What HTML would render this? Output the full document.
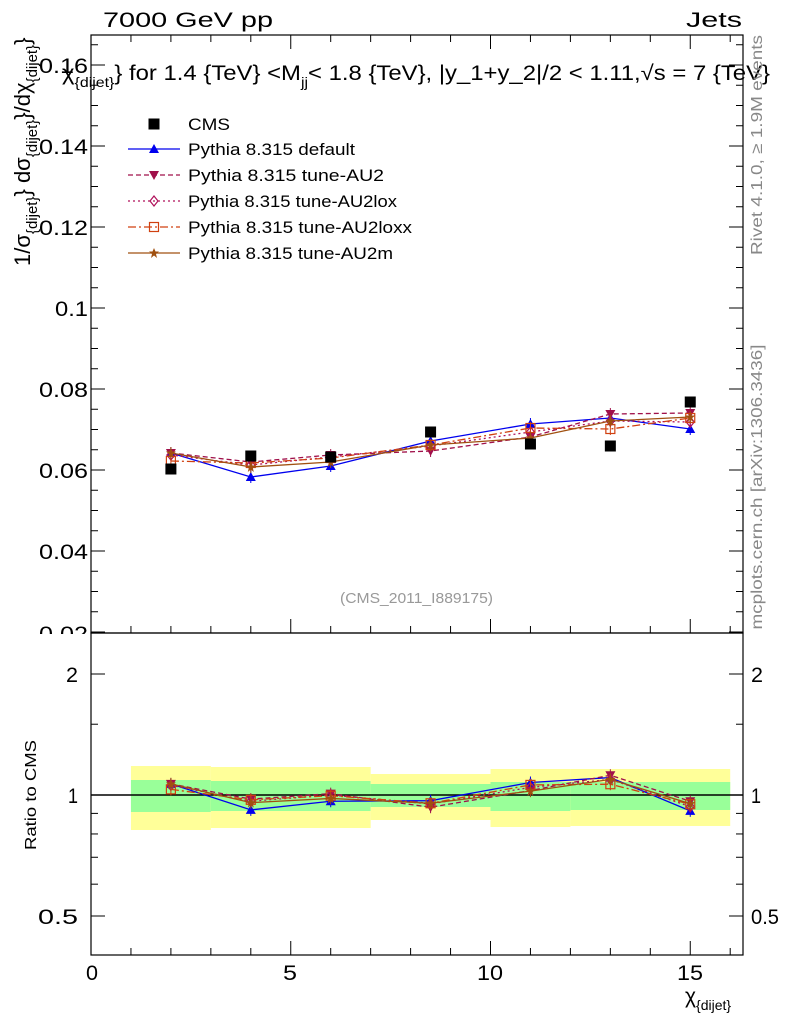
<!DOCTYPE html>
<html><head><meta charset="utf-8"><style>
body{margin:0;background:#fff;}
svg{font-family:"Liberation Sans",sans-serif;}
</style></head><body>
<svg id="s" width="786" height="1024" xmlns="http://www.w3.org/2000/svg">
<rect width="786" height="1024" fill="#fff"/>
<g id="bands"></g>
<line x1="91" y1="795" x2="743" y2="795" stroke="#000" stroke-width="1.5"/>
<g id="series"></g>
<g font-size="21" fill="#000">
<text x="88" y="641" text-anchor="end" textLength="49" lengthAdjust="spacingAndGlyphs">0.02</text>
</g>
<rect x="0" y="634" width="90" height="14" fill="#fff"/>
<rect x="91" y="35" width="652" height="598" fill="none" stroke="#000" stroke-width="1.2"/>
<rect x="91" y="633" width="652" height="322" fill="none" stroke="#000" stroke-width="1.2"/>
<g id="ticks" stroke="#000" stroke-width="1"></g>
<g font-size="21" fill="#000">
<text x="88" y="559" text-anchor="end" textLength="49" lengthAdjust="spacingAndGlyphs">0.04</text>
<text x="88" y="478" text-anchor="end" textLength="49" lengthAdjust="spacingAndGlyphs">0.06</text>
<text x="88" y="397" text-anchor="end" textLength="49" lengthAdjust="spacingAndGlyphs">0.08</text>
<text x="88" y="316" text-anchor="end" textLength="33" lengthAdjust="spacingAndGlyphs">0.1</text>
<text x="88" y="235" text-anchor="end" textLength="49" lengthAdjust="spacingAndGlyphs">0.12</text>
<text x="88" y="154" text-anchor="end" textLength="49" lengthAdjust="spacingAndGlyphs">0.14</text>
<text x="88" y="73" text-anchor="end" textLength="49" lengthAdjust="spacingAndGlyphs">0.16</text>
<text x="78" y="682" text-anchor="end" textLength="12" lengthAdjust="spacingAndGlyphs">2</text>
<text x="78" y="803" text-anchor="end" textLength="10" lengthAdjust="spacingAndGlyphs">1</text>
<text x="78" y="924" text-anchor="end" textLength="40" lengthAdjust="spacingAndGlyphs">0.5</text>
<text x="751" y="682" textLength="12" lengthAdjust="spacingAndGlyphs">2</text>
<text x="751" y="803" textLength="10" lengthAdjust="spacingAndGlyphs">1</text>
<text x="751" y="924" textLength="28" lengthAdjust="spacingAndGlyphs">0.5</text>
<text x="86" y="980" textLength="12" lengthAdjust="spacingAndGlyphs">0</text>
<text x="283" y="980" textLength="14" lengthAdjust="spacingAndGlyphs">5</text>
<text x="477" y="980" textLength="26" lengthAdjust="spacingAndGlyphs">10</text>
<text x="677" y="980" textLength="26" lengthAdjust="spacingAndGlyphs">15</text>
<text x="103" y="27" textLength="170" lengthAdjust="spacingAndGlyphs">7000 GeV pp</text>
<text x="686" y="27" textLength="56" lengthAdjust="spacingAndGlyphs">Jets</text>
<text x="685" y="1003">χ<tspan font-size="14" dy="7">{dijet}</tspan></text>
<text x="62" y="80" font-size="21" textLength="708" lengthAdjust="spacingAndGlyphs">χ<tspan font-size="14" dy="7">{dijet}</tspan><tspan dy="-7">} for 1.4 {TeV} &lt;M</tspan><tspan font-size="14" dy="7">jj</tspan><tspan dy="-7">&lt; 1.8 {TeV}, |y_1+y_2|/2 &lt; 1.11,√s = 7 {TeV}</tspan></text>
</g>
<text transform="translate(30,266) rotate(-90)" font-size="22">1/σ<tspan font-size="15" dy="7">{dijet}</tspan><tspan dy="-7">} dσ</tspan><tspan font-size="15" dy="7">{dijet}</tspan><tspan dy="-7">}/dχ</tspan><tspan font-size="15" dy="7">{dijet}</tspan><tspan dy="-7">}</tspan></text>
<text transform="translate(36,795) rotate(-90)" font-size="16" text-anchor="middle" textLength="110" lengthAdjust="spacingAndGlyphs">Ratio to CMS</text>
<text transform="translate(762,145) rotate(-90)" font-size="16" fill="#888" text-anchor="middle" textLength="220" lengthAdjust="spacingAndGlyphs">Rivet 4.1.0, ≥ 1.9M events</text>
<text transform="translate(762,487) rotate(-90)" font-size="16" fill="#888" text-anchor="middle" textLength="285" lengthAdjust="spacingAndGlyphs">mcplots.cern.ch [arXiv:1306.3436]</text>
<text x="340" y="603" font-size="15" fill="#999" textLength="153" lengthAdjust="spacingAndGlyphs">(CMS_2011_I889175)</text>
<g id="legend" font-size="17"></g>
</svg>
<script>
const NS="http://www.w3.org/2000/svg";
function el(p,t,a){const e=document.createElementNS(NS,t);for(const k in a)e.setAttribute(k,a[k]);p.appendChild(e);return e;}
const X=v=>91+v*39.95;
const tk=document.getElementById('ticks');
for(let v=0;v<=16;v++){const L=v%5==0?14:7;
 el(tk,'line',{x1:X(v),y1:955,x2:X(v),y2:955-L});el(tk,'line',{x1:X(v),y1:633,x2:X(v),y2:633-L});el(tk,'line',{x1:X(v),y1:35,x2:X(v),y2:35+L});}
for(let i=0;i<=30;i++){const v=0.02+i*0.005;const y=632-(v-0.02)*4050;if(y<35)break;const L=i%4==0?14:7;
 el(tk,'line',{x1:91,y1:y,x2:91+L,y2:y});el(tk,'line',{x1:743,y1:y,x2:743-L,y2:y});}
const RY=r=>795-121*Math.log2(r);
[0.5,0.6,0.7,0.8,0.9,1,1.5,2].forEach(r=>{const L=(r==0.5||r==1||r==2)?14:7;const y=RY(r);
 el(tk,'line',{x1:91,y1:y,x2:91+L,y2:y});el(tk,'line',{x1:743,y1:y,x2:743-L,y2:y});});
const b=document.getElementById('bands');
[[1,3,766,830,780,812],[3,7,767,828,781,811],[7,10,774,820,784,807],[10,12,769,827,782,811],[12,16,769,826,782,810]].forEach(q=>{
 el(b,'rect',{x:X(q[0]),y:q[2],width:X(q[1])-X(q[0]),height:q[3]-q[2],fill:'#ffff99'});
 el(b,'rect',{x:X(q[0]),y:q[4],width:X(q[1])-X(q[0]),height:q[5]-q[4],fill:'#99ff99'});});
const xs=[2,4,6,8.5,11,13,15];
const val=y=>0.02+(632-y)/4050;
const cms=[469,456,457,432,444,446,402];
const S=[
 {n:'Pythia 8.315 default',w:167,c:'#0000ee',d:'',m:'tri',y:[453,477,466,441,424,418,429]},
 {n:'Pythia 8.315 tune-AU2',w:196,c:'#a0104a',d:'5,3',m:'tridown',y:[453,462,455,451,437,414,413]},
 {n:'Pythia 8.315 tune-AU2lox',w:209,c:'#b0105a',d:'2,3',m:'diam',y:[455,465,457,446,432,421,422]},
 {n:'Pythia 8.315 tune-AU2loxx',w:224,c:'#d04010',d:'8,3,2,3',m:'sq',y:[461,463,458,445,428,429,418]},
 {n:'Pythia 8.315 tune-AU2m',w:205,c:'#a05010',d:'',m:'star',y:[453,467,462,445,438,421,417]}];
const g=document.getElementById('series');
function mk(p,t,x,y,c){
 if(t=='tri')el(p,'polygon',{points:`${x-5},${y+4} ${x+5},${y+4} ${x},${y-5}`,fill:c});
 else if(t=='tridown')el(p,'polygon',{points:`${x-5},${y-4} ${x+5},${y-4} ${x},${y+5}`,fill:c});
 else if(t=='diam')el(p,'polygon',{points:`${x},${y-5} ${x+4},${y} ${x},${y+5} ${x-4},${y}`,fill:'none',stroke:c,'stroke-width':1.2});
 else if(t=='sq')el(p,'rect',{x:x-4.5,y:y-4.5,width:9,height:9,fill:'none',stroke:c,'stroke-width':1.2});
 else if(t=='star')el(p,'polygon',{points:`${x},${y-5} ${x+1.5},${y-1.5} ${x+5},${y-1.5} ${x+2},${y+1} ${x+3},${y+5} ${x},${y+2.5} ${x-3},${y+5} ${x-2},${y+1} ${x-5},${y-1.5} ${x-1.5},${y-1.5}`,fill:c});
 else if(t=='cms')el(p,'rect',{x:x-5.5,y:y-5.5,width:11,height:11,fill:'#000'});
}
S.forEach(s=>{
 const pts=xs.map((x,i)=>[X(x),s.y[i]]);
 el(g,'polyline',{points:pts.map(p=>p.join(',')).join(' '),fill:'none',stroke:s.c,'stroke-width':1.3,'stroke-dasharray':s.d});
 pts.forEach(p=>{el(g,'line',{x1:p[0],y1:p[1]-6,x2:p[0],y2:p[1]+6,stroke:s.c});mk(g,s.m,p[0],p[1],s.c);});
 const rp=xs.map((x,i)=>[X(x),RY(val(s.y[i])/val(cms[i]))]);
 el(g,'polyline',{points:rp.map(p=>p.join(',')).join(' '),fill:'none',stroke:s.c,'stroke-width':1.3,'stroke-dasharray':s.d});
 rp.forEach(p=>{el(g,'line',{x1:p[0],y1:p[1]-6,x2:p[0],y2:p[1]+6,stroke:s.c});mk(g,s.m,p[0],p[1],s.c);});
});
xs.forEach((x,i)=>mk(g,'cms',X(x),cms[i]));
const lg=document.getElementById('legend');
mk(lg,'cms',154,124);el(lg,'text',{x:188,y:130,textLength:42,lengthAdjust:'spacingAndGlyphs'}).textContent='CMS';
S.forEach((s,i)=>{const y=149+i*26;
 el(lg,'line',{x1:128,y1:y,x2:180,y2:y,stroke:s.c,'stroke-width':1.3,'stroke-dasharray':s.d});
 mk(lg,s.m,154,y,s.c);el(lg,'text',{x:188,y:y+6,textLength:s.w,lengthAdjust:'spacingAndGlyphs'}).textContent=s.n;});
</script>
</body></html>
